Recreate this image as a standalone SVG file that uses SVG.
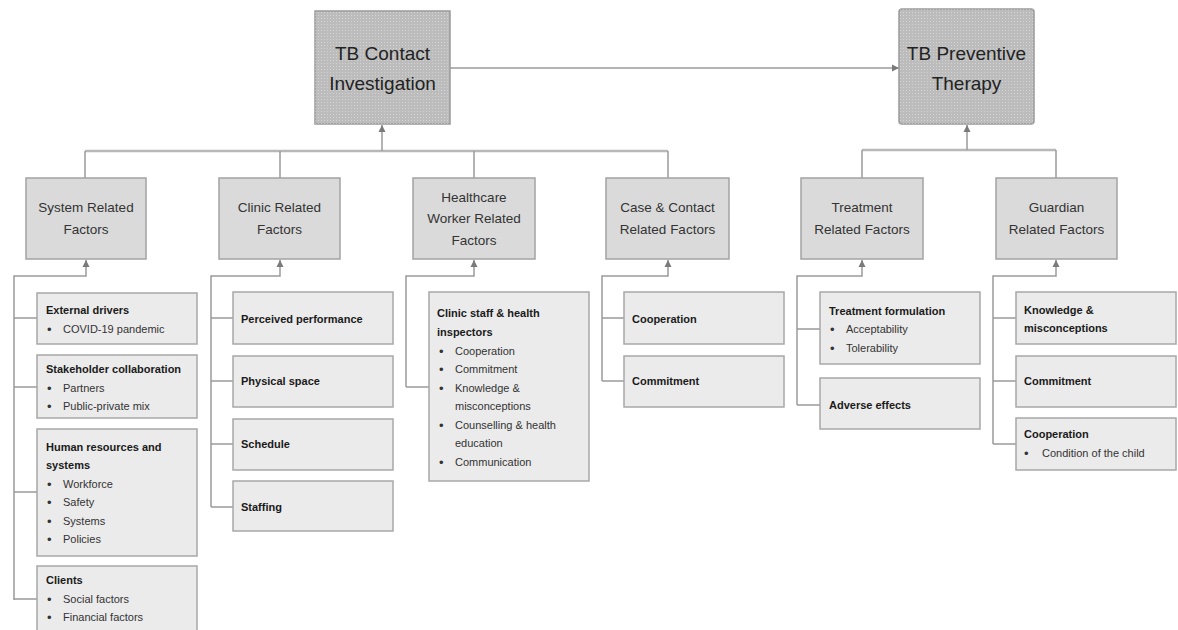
<svg xmlns="http://www.w3.org/2000/svg" width="1178" height="630" viewBox="0 0 1178 630">
<defs>
<marker id="ah" markerWidth="8" markerHeight="8" refX="7" refY="4" orient="auto" markerUnits="userSpaceOnUse">
<path d="M0,0.5 L7,4 L0,7.5 Z" fill="#7a7a7a"/>
</marker>
<pattern id="dots" width="3" height="3" patternUnits="userSpaceOnUse">
<rect x="0" y="0" width="1" height="1" fill="#ffffff" opacity="0.35"/>
</pattern>
</defs>
<style>
.top{fill:#bcbcbc;stroke:#9a9a9a;stroke-width:1.5}
.mid{fill:#dadada;stroke:#a3a3a3;stroke-width:1.5}
.leaf{fill:#ebebeb;stroke:#a8a8a8;stroke-width:1.5}
.tex{fill:url(#dots);stroke:none}
.tt{font-family:"Liberation Sans",Arial,sans-serif;font-size:19px;fill:#222;text-anchor:middle}
.mt{font-family:"Liberation Sans",Arial,sans-serif;font-size:13.5px;fill:#333;text-anchor:middle}
.h{font-family:"Liberation Sans",Arial,sans-serif;font-size:11px;font-weight:bold;fill:#1a1a1a}
.i{font-family:"Liberation Sans",Arial,sans-serif;font-size:11px;fill:#333}
.b{font-family:"Liberation Sans",Arial,sans-serif;font-size:13px;fill:#333}
.c{fill:none;stroke:#9a9a9a;stroke-width:1.5}
.bus{fill:none;stroke:#b8b8b8;stroke-width:2.5}
</style>
<rect width="1178" height="630" fill="#ffffff"/>

<g id="connectors">
<path class="c" d="M450,68 H899" marker-end="url(#ah)"/>
<path class="bus" d="M85,151 H668"/>
<path class="c" d="M85,151 V178 M280,151 V178 M474,151 V178 M668,151 V178"/>
<path class="c" d="M382,151 V125" marker-end="url(#ah)"/>
<path class="bus" d="M862,150 H1056"/>
<path class="c" d="M862,150 V178 M1056,150 V178"/>
<path class="c" d="M967,150 V125" marker-end="url(#ah)"/>
<!-- system -->
<path class="c" d="M14,600 V276 H86 V260" marker-end="url(#ah)"/>
<path class="c" d="M14,318 H37 M14,387 H37 M14,492 H37 M14,599 H37"/>
<!-- clinic -->
<path class="c" d="M211,507 V276 H280 V260" marker-end="url(#ah)"/>
<path class="c" d="M211,318 H233 M211,381 H233 M211,444 H233 M211,507 H233"/>
<!-- healthcare -->
<path class="c" d="M406,387 V276 H474 V260" marker-end="url(#ah)"/>
<path class="c" d="M406,387 H429"/>
<!-- case -->
<path class="c" d="M602,381 V276 H668 V260" marker-end="url(#ah)"/>
<path class="c" d="M602,318 H624 M602,381 H624"/>
<!-- treatment -->
<path class="c" d="M797,405 V276 H862 V260" marker-end="url(#ah)"/>
<path class="c" d="M797,329 H820 M797,405 H820"/>
<!-- guardian -->
<path class="c" d="M993,444 V276 H1056 V260" marker-end="url(#ah)"/>
<path class="c" d="M993,318 H1016 M993,381 H1016 M993,444 H1016"/>
</g>

<g id="tb-contact">
<rect class="top" x="315" y="11" width="135" height="113"/>
<rect class="tex" x="315" y="11" width="135" height="113"/>
<text class="tt" x="382.5" y="60">TB Contact</text>
<text class="tt" x="382.5" y="90">Investigation</text>
</g>
<g id="tb-preventive">
<rect class="top" x="899" y="9" width="135" height="115" rx="3"/>
<rect class="tex" x="899" y="9" width="135" height="115" rx="3"/>
<text class="tt" x="966.5" y="60">TB Preventive</text>
<text class="tt" x="966.5" y="90">Therapy</text>
</g>

<g id="system">
<rect class="mid" x="26" y="178" width="120" height="81"/>
<text class="mt" x="86" y="212">System Related</text>
<text class="mt" x="86" y="234">Factors</text>
</g>
<g id="clinic">
<rect class="mid" x="219" y="178" width="121" height="81"/>
<text class="mt" x="279.5" y="212">Clinic Related</text>
<text class="mt" x="279.5" y="234">Factors</text>
</g>
<g id="healthcare">
<rect class="mid" x="413" y="178" width="122" height="81"/>
<text class="mt" x="474" y="202">Healthcare</text>
<text class="mt" x="474" y="223">Worker Related</text>
<text class="mt" x="474" y="245">Factors</text>
</g>
<g id="case-contact">
<rect class="mid" x="606" y="178" width="123" height="81"/>
<text class="mt" x="667.5" y="212">Case &amp; Contact</text>
<text class="mt" x="667.5" y="234">Related Factors</text>
</g>
<g id="treatment">
<rect class="mid" x="801" y="178" width="122" height="81"/>
<text class="mt" x="862" y="212">Treatment</text>
<text class="mt" x="862" y="234">Related Factors</text>
</g>
<g id="guardian">
<rect class="mid" x="996" y="178" width="121" height="81"/>
<text class="mt" x="1056.5" y="212">Guardian</text>
<text class="mt" x="1056.5" y="234">Related Factors</text>
</g>

<!-- System leaves -->
<g id="external-drivers">
<rect class="leaf" x="37" y="293" width="160" height="51"/>
<text class="h" x="46" y="314">External drivers</text>
<text class="b" x="47" y="334">•</text><text class="i" x="63" y="333">COVID-19 pandemic</text>
</g>
<g id="stakeholder">
<rect class="leaf" x="37" y="355" width="160" height="63"/>
<text class="h" x="46" y="373">Stakeholder collaboration</text>
<text class="b" x="47" y="393">•</text><text class="i" x="63" y="392">Partners</text>
<text class="b" x="47" y="411">•</text><text class="i" x="63" y="410">Public-private mix</text>
</g>
<g id="human-resources">
<rect class="leaf" x="37" y="429" width="160" height="127"/>
<text class="h" x="46" y="451">Human resources and</text>
<text class="h" x="46" y="469">systems</text>
<text class="b" x="47" y="489">•</text><text class="i" x="63" y="488">Workforce</text>
<text class="b" x="47" y="507">•</text><text class="i" x="63" y="506">Safety</text>
<text class="b" x="47" y="526">•</text><text class="i" x="63" y="525">Systems</text>
<text class="b" x="47" y="544">•</text><text class="i" x="63" y="543">Policies</text>
</g>
<g id="clients">
<rect class="leaf" x="37" y="566" width="160" height="70"/>
<text class="h" x="46" y="584">Clients</text>
<text class="b" x="47" y="604">•</text><text class="i" x="63" y="603">Social factors</text>
<text class="b" x="47" y="622">•</text><text class="i" x="63" y="621">Financial factors</text>
</g>

<!-- Clinic leaves -->
<g id="perceived-performance">
<rect class="leaf" x="233" y="292" width="160" height="52"/>
<text class="h" x="241" y="323">Perceived performance</text>
</g>
<g id="physical-space">
<rect class="leaf" x="233" y="356" width="160" height="51"/>
<text class="h" x="241" y="385">Physical space</text>
</g>
<g id="schedule">
<rect class="leaf" x="233" y="419" width="160" height="51"/>
<text class="h" x="241" y="448">Schedule</text>
</g>
<g id="staffing">
<rect class="leaf" x="233" y="481" width="160" height="50"/>
<text class="h" x="241" y="511">Staffing</text>
</g>

<!-- Healthcare leaf -->
<g id="clinic-staff">
<rect class="leaf" x="429" y="292" width="160" height="189"/>
<text class="h" x="437" y="317">Clinic staff &amp; health</text>
<text class="h" x="437" y="336">inspectors</text>
<text class="b" x="439" y="356">•</text><text class="i" x="455" y="355">Cooperation</text>
<text class="b" x="439" y="374">•</text><text class="i" x="455" y="373">Commitment</text>
<text class="b" x="439" y="393">•</text><text class="i" x="455" y="392">Knowledge &amp;</text>
<text class="i" x="455" y="410">misconceptions</text>
<text class="b" x="439" y="430">•</text><text class="i" x="455" y="429">Counselling &amp; health</text>
<text class="i" x="455" y="447">education</text>
<text class="b" x="439" y="467">•</text><text class="i" x="455" y="466">Communication</text>
</g>

<!-- Case & contact leaves -->
<g id="cc-cooperation">
<rect class="leaf" x="624" y="292" width="160" height="52"/>
<text class="h" x="632" y="323">Cooperation</text>
</g>
<g id="cc-commitment">
<rect class="leaf" x="624" y="356" width="160" height="51"/>
<text class="h" x="632" y="385">Commitment</text>
</g>

<!-- Treatment leaves -->
<g id="treatment-formulation">
<rect class="leaf" x="820" y="292" width="160" height="72"/>
<text class="h" x="829" y="315">Treatment formulation</text>
<text class="b" x="830" y="334">•</text><text class="i" x="846" y="333">Acceptability</text>
<text class="b" x="830" y="353">•</text><text class="i" x="846" y="352">Tolerability</text>
</g>
<g id="adverse-effects">
<rect class="leaf" x="820" y="378" width="160" height="51"/>
<text class="h" x="829" y="409">Adverse effects</text>
</g>

<!-- Guardian leaves -->
<g id="knowledge">
<rect class="leaf" x="1016" y="292" width="160" height="52"/>
<text class="h" x="1024" y="314">Knowledge &amp;</text>
<text class="h" x="1024" y="332">misconceptions</text>
</g>
<g id="g-commitment">
<rect class="leaf" x="1016" y="356" width="160" height="51"/>
<text class="h" x="1024" y="385">Commitment</text>
</g>
<g id="g-cooperation">
<rect class="leaf" x="1016" y="418" width="160" height="52"/>
<text class="h" x="1024" y="438">Cooperation</text>
<text class="b" x="1024" y="458">•</text><text class="i" x="1042" y="457">Condition of the child</text>
</g>
</svg>
